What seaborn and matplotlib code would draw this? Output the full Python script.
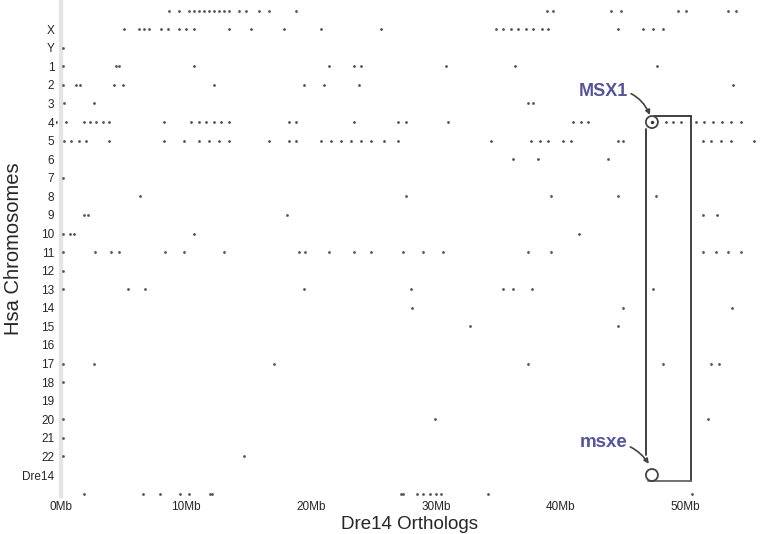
import numpy as np
import pandas as pd
import matplotlib
matplotlib.use("Agg")
import matplotlib.pyplot as plt
import seaborn as sns

# ---- data: ortholog positions (Mb on Dre14) per Hsa chromosome row ----
row_labels = ["", "X", "Y"] + [str(i) for i in range(1, 23)] + ["Dre14", ""]

pos_top = [8.6, 9.4, 10.2, 10.6, 11.0, 11.4, 11.8, 12.2, 12.6, 13.0, 13.4, 14.2, 14.8,
           15.8, 16.6, 18.8, 38.9, 39.4, 44.0, 44.8, 49.4, 50.0, 53.4, 54.0]
pos_X = [5.0, 6.2, 6.6, 7.0, 8.0, 8.5, 9.4, 10.0, 10.6, 13.4, 15.2, 17.8, 20.8, 25.6,
         34.8, 35.4, 36.0, 36.6, 37.2, 37.8, 38.5, 39.0, 44.6, 46.6, 47.4, 48.2]
pos_Y = [0.1]
pos_1 = [0.1, 4.4, 4.6, 10.6, 21.4, 23.4, 24.0, 30.8, 36.3, 47.7]
pos_2 = [0.1, 1.2, 1.45, 4.2, 4.9, 12.2, 19.4, 21.0, 23.8, 53.8]
pos_3 = [0.2, 2.6, 37.4, 37.8]
pos_4 = [-0.4, 0.4, 1.8, 2.3, 2.8, 3.3, 3.8, 8.2, 10.4, 11.0, 11.6, 12.2, 12.8, 13.4,
         18.2, 18.8, 23.4, 27.0, 27.6, 31.0, 41.0, 41.6, 42.2, 48.4, 49.0, 49.6,
         50.8, 51.5, 52.2, 52.9, 53.6, 54.4]
pos_5 = [0.2, 0.8, 1.4, 2.0, 3.8, 8.2, 9.8, 11.0, 11.8, 12.6, 13.4, 16.6, 18.2, 18.8,
         20.8, 21.6, 22.4, 23.2, 24.0, 24.8, 25.8, 27.0, 34.4, 37.6, 38.3, 39.0,
         40.2, 40.8, 44.6, 45.0, 51.4, 52.0, 52.8, 53.6, 55.5]
pos_6 = [36.2, 38.2, 43.8]
pos_7 = [0.1]
pos_8 = [6.3, 27.6, 39.2, 44.6, 47.6]
pos_9 = [1.8, 2.1, 18.1, 51.4, 52.5]
pos_10 = [0.1, 0.7, 1.0, 10.6, 41.5]
pos_11 = [0.1, 2.7, 4.0, 4.6, 8.3, 9.8, 13.0, 19.0, 19.5, 21.4, 23.4, 24.8, 27.4,
          29.0, 30.6, 37.4, 39.2, 51.4, 52.4, 53.4, 54.4]
pos_12 = [0.1]
pos_13 = [0.1, 5.3, 6.7, 19.4, 28.0, 35.4, 36.2, 37.7, 47.4]
pos_14 = [28.1, 45.0, 53.7]
pos_15 = [32.7, 44.6]
pos_16 = []
pos_17 = [0.1, 2.6, 17.0, 37.4, 48.2, 52.0, 52.7]
pos_18 = [0.1]
pos_19 = []
pos_20 = [0.1, 29.9, 51.8]
pos_21 = [0.1]
pos_22 = [0.1, 14.6]
pos_Dre14 = []
pos_bottom = [1.8, 6.5, 7.9, 9.5, 10.2, 11.9, 12.1, 27.2, 27.4, 28.5, 29.0, 29.5,
              30.0, 30.4, 34.2, 50.5]

# highlighted genes
msx1_pos, msx1_row = 47.3, "4"
msxe_pos, msxe_row = 47.3, "Dre14"

x_ticks = [0, 10, 20, 30, 40, 50]
x_tick_labels = ["0Mb", "10Mb", "20Mb", "30Mb", "40Mb", "50Mb"]

rows = [pos_top, pos_X, pos_Y, pos_1, pos_2, pos_3, pos_4, pos_5, pos_6, pos_7,
        pos_8, pos_9, pos_10, pos_11, pos_12, pos_13, pos_14, pos_15, pos_16,
        pos_17, pos_18, pos_19, pos_20, pos_21, pos_22, pos_Dre14, pos_bottom]

recs = []
for i, r in enumerate(rows):
    for p in r:
        recs.append((p, i))
df = pd.DataFrame(recs, columns=["Mb", "row"])

sns.set_theme(style="white")
plt.rcParams["font.family"] = ["Liberation Sans", "DejaVu Sans"]

fig = plt.figure(figsize=(7.63, 5.34), dpi=100)
ax = fig.add_axes([0.074, 0.067, 0.926, 0.933])

# faint Mb-0 band
ax.axvline(0, color="#e4e4e4", lw=3, zorder=0)

sns.scatterplot(data=df, x="Mb", y="row", ax=ax, s=4, color="#555555",
                linewidth=0, legend=False, zorder=3)

r1 = row_labels.index(msx1_row, 3)
r2 = row_labels.index(msxe_row)
hl = pd.DataFrame({"Mb": [msx1_pos, msxe_pos], "row": [r1, r2]})
sns.scatterplot(data=hl, x="Mb", y="row", ax=ax, s=75, facecolor="none",
                edgecolor="#444444", linewidth=1.3, legend=False, zorder=4)
sns.scatterplot(data=hl.iloc[:1], x="Mb", y="row", ax=ax, s=6, color="#333333",
                linewidth=0, legend=False, zorder=5)

# connecting box between the two loci
lc = "#333333"
xl, xr = msx1_pos - 0.5, msx1_pos + 3.1
ax.plot([msx1_pos + 0.2, xr], [r1 - 0.33, r1 - 0.33], color=lc, lw=1.3)
ax.plot([xr, xr], [r1 - 0.33, r2 + 0.3], color=lc, lw=1.3)
ax.plot([msxe_pos - 0.3, xr], [r2 + 0.3, r2 + 0.3], color="#666666", lw=1.3)
ax.plot([xl, xl], [r1 + 0.4, r2 - 1.05], color=lc, lw=1.3)

tc = "#55559a"
ax.annotate("MSX1", xy=(msx1_pos - 0.15, r1 - 0.38), xytext=(msx1_pos - 3.9, r1 - 1.65),
            ha="center", va="center", fontsize=13, fontweight="bold", color=tc,
            arrowprops=dict(arrowstyle="-|>", color="#444444", lw=1.2,
                            mutation_scale=7, shrinkA=0, shrinkB=0,
                            connectionstyle="arc3,rad=-0.4"))
ax.annotate("msxe", xy=(msxe_pos - 0.25, r2 - 0.6), xytext=(msxe_pos - 3.9, r2 - 1.75),
            ha="center", va="center", fontsize=13.5, fontweight="bold", color=tc,
            arrowprops=dict(arrowstyle="-|>", color="#444444", lw=1.2,
                            mutation_scale=7, shrinkA=0, shrinkB=0,
                            connectionstyle="arc3,rad=-0.3"))

ax.set_xlim(-0.4, 56.2)
ax.set_ylim(26.25, -0.57)
ax.set_xticks(x_ticks)
ax.set_xticklabels(x_tick_labels, fontsize=8.5)
yt = list(range(1, 26))
ax.set_yticks(yt)
ax.set_yticklabels(row_labels[1:26], fontsize=8.5)
ax.tick_params(length=0, pad=2)
ax.tick_params(axis="y", pad=1.5)
for s in ax.spines.values():
    s.set_visible(False)
ax.set_xlabel("Dre14 Orthologs", fontsize=13.5, labelpad=2)
ax.set_ylabel("Hsa Chromosomes", fontsize=14.5)
ax.yaxis.set_label_coords(-0.047, 0.5)
ax.grid(False)

fig.savefig("out.png", dpi=100)
